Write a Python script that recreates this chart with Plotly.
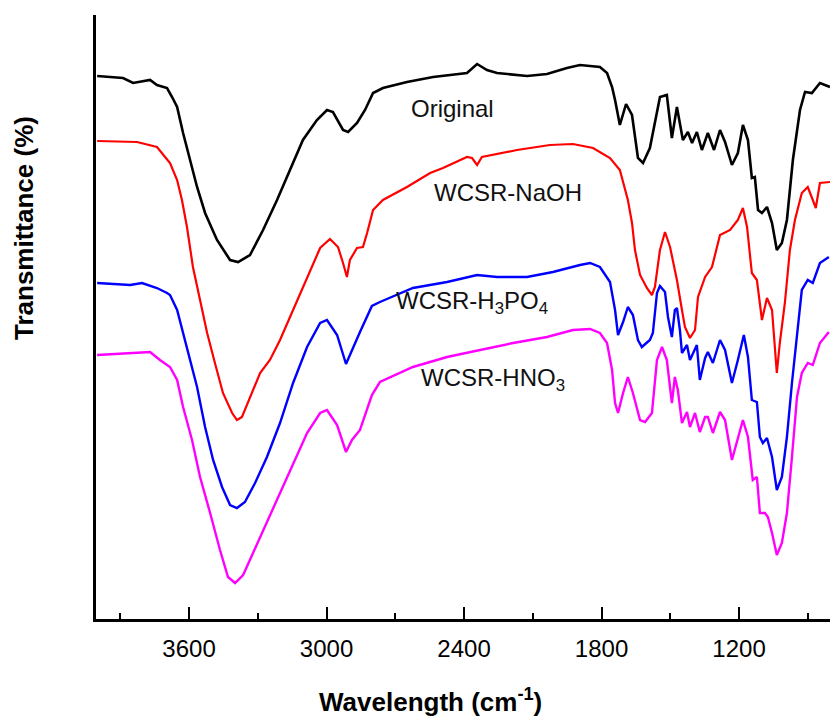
import plotly.graph_objects as go

# FTIR spectra (wavenumber in cm-1, transmittance in arbitrary units, offset curves)
orig_wn = [4001, 3888, 3844, 3770, 3740, 3696, 3674, 3652, 3626, 3596, 3565, 3530, 3478, 3421, 3386,
           3334, 3277, 3216, 3159, 3103, 3042, 2998, 2972, 2928, 2906, 2867, 2832, 2797, 2754, 2649,
           2535, 2387, 2343, 2300, 2256, 2125, 2038, 1951, 1894, 1807, 1776, 1754, 1741, 1720, 1693,
           1667, 1641, 1619, 1589, 1567, 1545, 1515, 1493, 1471, 1458, 1445, 1423, 1405, 1384, 1362,
           1336, 1309, 1283, 1261, 1231, 1205, 1183, 1161, 1144, 1131, 1117, 1100, 1078, 1056, 1035,
           1013, 991, 965, 934, 912, 882, 847, 803]
orig_t = [543, 541, 536, 539, 534, 531, 522, 512, 486, 459, 432, 406, 379, 359, 357,
          364, 389, 419, 449, 479, 499, 509, 507, 489, 487, 496, 509, 526, 531, 537,
          542, 546, 555, 549, 546, 543, 545, 551, 554, 552, 546, 532, 519, 494, 515,
          504, 461, 456, 471, 496, 522, 524, 481, 512, 494, 479, 487, 476, 487, 469,
          486, 469, 489, 477, 454, 466, 494, 479, 441, 442, 409, 406, 412, 396, 369,
          376, 399, 459, 509, 527, 526, 536, 532]

naoh_wn = [4001, 3827, 3740, 3683, 3652, 3631, 3609, 3583, 3552, 3521, 3487, 3452, 3412, 3391, 3369,
           3334, 3290, 3247, 3203, 3146, 3085, 3028, 2985, 2950, 2928, 2911, 2898, 2867, 2841, 2823,
           2797, 2754, 2649, 2548, 2492, 2387, 2365, 2343, 2322, 2169, 2025, 1925, 1837, 1763, 1720,
           1685, 1667, 1654, 1632, 1602, 1580, 1567, 1545, 1523, 1501, 1471, 1449, 1436, 1414, 1392,
           1379, 1348, 1318, 1283, 1239, 1205, 1183, 1165, 1144, 1122, 1100, 1078, 1056, 1035, 1022,
           1000, 978, 956, 926, 900, 878, 865, 847, 803]
naoh_t = [478, 477, 472, 456, 439, 419, 392, 352, 319, 286, 256, 226, 206, 199, 202,
          222, 246, 259, 279, 309, 342, 371, 380, 372, 356, 342, 359, 371, 372, 386,
          409, 419, 432, 446, 451, 462, 461, 454, 462, 469, 474, 475, 471, 461, 449,
          419, 396, 369, 344, 331, 324, 332, 369, 387, 372, 339, 309, 292, 281, 289,
          322, 342, 352, 384, 389, 399, 411, 392, 346, 339, 299, 321, 309, 246, 276,
          316, 369, 399, 426, 432, 419, 411, 436, 437]

h3po4_wn = [4001, 3857, 3805, 3740, 3696, 3683, 3652, 3626, 3596, 3565, 3530, 3495, 3456, 3421, 3391,
            3356, 3312, 3260, 3203, 3146, 3085, 3028, 2998, 2954, 2915, 2889, 2854, 2802, 2767, 2623,
            2474, 2343, 2256, 2125, 2012, 1894, 1850, 1807, 1763, 1741, 1728, 1706, 1685, 1663, 1641,
            1624, 1589, 1576, 1558, 1545, 1523, 1510, 1493, 1480, 1471, 1458, 1449, 1427, 1414, 1384,
            1371, 1348, 1336, 1314, 1283, 1261, 1231, 1205, 1179, 1161, 1144, 1122, 1109, 1096, 1078,
            1056, 1035, 1013, 991, 969, 947, 926, 900, 878, 847, 808]
h3po4_t = [336, 334, 336, 331, 326, 324, 309, 286, 259, 232, 192, 159, 132, 114, 111,
           117, 136, 162, 196, 236, 272, 296, 299, 284, 255, 269, 287, 313, 317, 331,
           337, 344, 342, 342, 347, 354, 356, 352, 337, 309, 284, 297, 312, 304, 279,
           272, 279, 286, 326, 333, 327, 302, 282, 309, 311, 289, 266, 274, 259, 274,
           239, 261, 267, 256, 279, 269, 236, 259, 284, 262, 219, 217, 182, 176, 181,
           162, 129, 142, 182, 236, 286, 329, 339, 336, 356, 362]

hno3_wn = [4001, 3857, 3770, 3727, 3683, 3652, 3626, 3587, 3552, 3508, 3465, 3430, 3399, 3364, 3321,
           3260, 3203, 3146, 3085, 3028, 2998, 2954, 2915, 2889, 2854, 2802, 2767, 2623, 2474, 2330,
           2186, 2038, 1925, 1850, 1807, 1776, 1754, 1741, 1728, 1706, 1685, 1663, 1632, 1610, 1580,
           1558, 1536, 1515, 1493, 1480, 1467, 1449, 1427, 1414, 1392, 1371, 1348, 1336, 1314, 1283,
           1261, 1231, 1205, 1183, 1161, 1140, 1122, 1109, 1087, 1074, 1056, 1035, 1013, 991, 969,
           947, 926, 900, 878, 847, 808]
hno3_t = [264, 266, 267, 259, 252, 239, 212, 179, 142, 106, 69, 42, 36, 44, 66,
          96, 126, 156, 186, 206, 209, 194, 167, 179, 189, 224, 237, 252, 262, 269,
          276, 282, 289, 290, 286, 276, 249, 216, 206, 226, 242, 226, 199, 197, 206,
          259, 272, 259, 216, 242, 229, 196, 207, 192, 206, 187, 202, 202, 186, 207,
          199, 159, 182, 199, 182, 139, 142, 106, 106, 102, 86, 64, 76, 106, 162,
          222, 246, 256, 254, 276, 287]

series = [
    ("Original", orig_wn, orig_t, "#000000", 2.6),
    ("WCSR-NaOH", naoh_wn, naoh_t, "#ff0000", 2.2),
    ("WCSR-H3PO4", h3po4_wn, h3po4_t, "#0000ff", 2.4),
    ("WCSR-HNO3", hno3_wn, hno3_t, "#ff00ff", 2.4),
]

labels = [
    ("Original", 2640, 511),
    ("WCSR-NaOH", 2540, 427),
    ("WCSR-H<sub>3</sub>PO<sub>4</sub>", 2706, 317),
    ("WCSR-HNO<sub>3</sub>", 2597, 240),
]

tick_vals = [3600, 3000, 2400, 1800, 1200]
minor_vals = [3900, 3300, 2700, 2100, 1500, 900]

FONT = "Liberation Sans, Arial"

fig = go.Figure()
for name, wn, t, color, w in series:
    fig.add_trace(go.Scatter(x=wn, y=t, mode="lines", name=name,
                             line=dict(color=color, width=w), showlegend=False))

for text, x, y in labels:
    fig.add_annotation(x=x, y=y, xref="x", yref="y", text=text, showarrow=False,
                       xanchor="left", yanchor="middle",
                       font=dict(family=FONT, size=24, color="#111111"))

# axis titles
fig.add_annotation(x=(430 - 96) / 734, y=-(700 - 619) / 604, xref="paper", yref="paper",
                   xanchor="center", yanchor="middle",
                   text="<b>Wavelength (cm<sup>-1</sup>)</b>", showarrow=False,
                   font=dict(family=FONT, size=26, color="black"))
fig.add_annotation(x=-(96 - 24) / 734, y=(619 - 228) / 604, xref="paper", yref="paper",
                   xanchor="center", yanchor="middle",
                   text="<b>Transmittance (%)</b>", textangle=-90, showarrow=False,
                   font=dict(family=FONT, size=26, color="black"))

fig.update_layout(
    width=830, height=716,
    margin=dict(l=96, r=0, t=15, b=97),
    paper_bgcolor="white", plot_bgcolor="white",
    font=dict(family=FONT, color="black"),
)

fig.update_xaxes(range=[4006, 803], tickvals=tick_vals, ticks="inside", ticklen=12, tickwidth=2,
                 tickcolor="black", showline=True, linecolor="black", linewidth=2.5,
                 showgrid=False, zeroline=False,
                 tickfont=dict(family=FONT, size=24, color="black"),
                 ticklabelstandoff=6,
                 minor=dict(tickvals=minor_vals, ticks="inside",
                            ticklen=6, tickwidth=2, tickcolor="black"))
fig.update_yaxes(range=[0, 604], showticklabels=False, ticks="", showline=True, linecolor="black",
                 linewidth=2.5, showgrid=False, zeroline=False)

fig.write_html("out.html")
